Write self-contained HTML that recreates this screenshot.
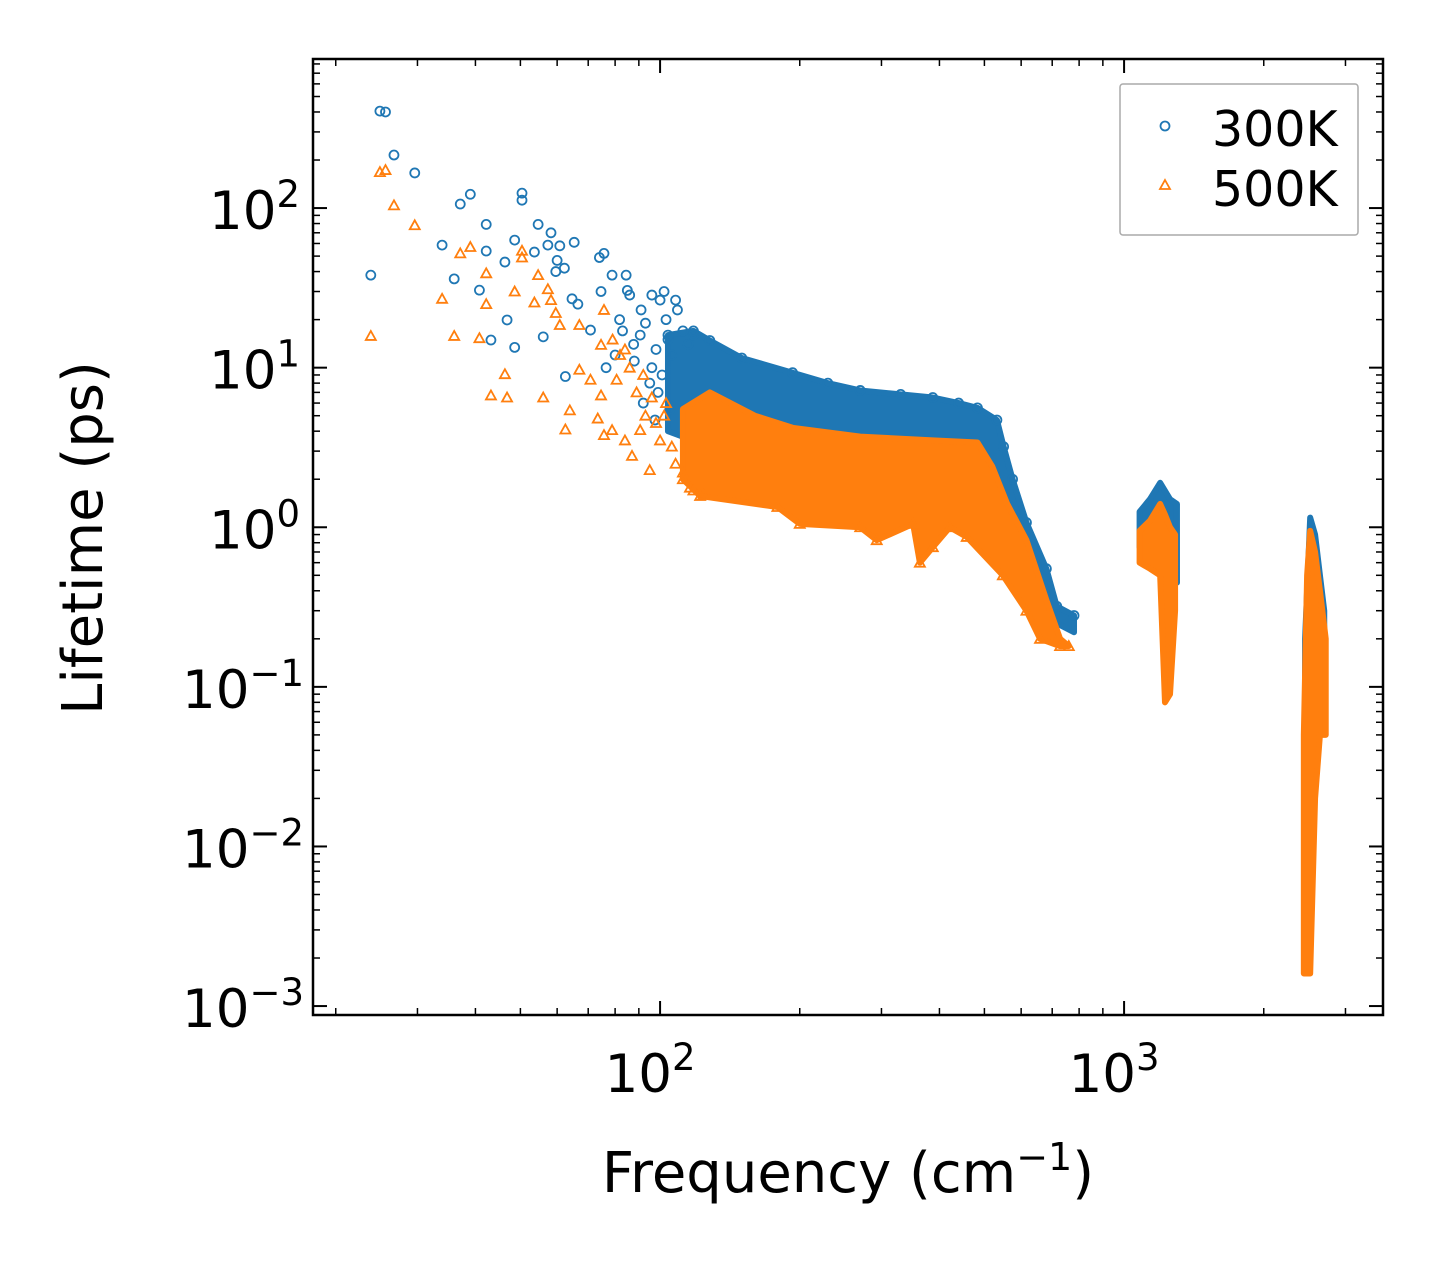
<!DOCTYPE html>
<html><head><meta charset="utf-8"><style>
html,body{margin:0;padding:0;background:#fff;}
svg{display:block;font-family:"DejaVu Sans","Liberation Sans",sans-serif;}
</style></head><body>
<svg id="chart" width="1442" height="1265" viewBox="0 0 1442 1265" xmlns="http://www.w3.org/2000/svg">
<rect width="1442" height="1265" fill="#fff"/>
<g id="marks"></g>
<g id="axes"></g>
<text x="848" y="1192" font-size="56" text-anchor="middle">Frequency (cm<tspan dy="-22" font-size="38">−1</tspan><tspan dy="22">)</tspan></text>
<text transform="translate(102,538) rotate(-90)" font-size="56" text-anchor="middle">Lifetime (ps)</text>
<g>
<rect x="1120" y="84" width="238" height="151" rx="3" fill="#fff" stroke="#aaa" stroke-width="1.5"/>
<circle cx="1165" cy="126" r="4.5" fill="none" stroke="#1f77b4" stroke-width="1.8"/>
<text x="1212" y="146" font-size="49">300K</text>
<path d="M1165 180 L1170 189 L1160 189 Z" fill="none" stroke="#ff7f0e" stroke-width="1.8"/>
<text x="1212" y="206" font-size="49">500K</text>
</g>
</svg>
<script>
// ---- data ----
const blueF = [23.8,24.9,25.6,26.7,29.6,33.9,36,37.1,39,40.8,42.2,42.2,43.2,46.3,46.8,48.6,48.6,50.4,50.4,54.6,53.6,56,57.3,58.2,59.6,60,60.8,62.2,62.5,64.6,65.3,66.5,70.8,74,75.7,74.6,76.5,78.8,84.5,81.8,86,85,91,96,100,102,108,109,97.5,90.6,87.7,80,83,88,93,95,98,103,104,106,112,115,118,92,96,99,101,105];
const blueL = [38,405,400,215,166,58.6,36,106,122,30.6,79,53.8,14.9,45.9,19.9,13.4,63,124,112,79,53,15.6,58.6,70,40,47,58,42,8.8,27,61,25,17.2,49,52,30,10,38,38,20,28.5,30.5,23,28.5,26.5,30,26.5,23,4.7,16,14,12,17,11,19,8,13,20,15,12,17,14,16,6,10,7,9,5.5];
const orangeF = [23.8,24.9,25.6,26.7,29.6,33.9,36,37.1,39,40.8,42.2,42.2,43.2,46.3,46.8,48.6,50.4,50.4,53.6,54.6,56,57.3,58.2,59.6,60.8,62.5,63.9,67,70.8,73.4,74.6,75.7,78.8,80.6,84,87,90.6,95,100,108,116,67,75.7,74.6,82,86,89,93,98,103,106,112,118,124,79,84,92,96,102];
const orangeL = [15.8,168,173,104,78,27,15.8,52,57,15.3,39,25,6.7,9.1,6.5,30,54,49,25.6,38,6.5,31,26.5,22,18.5,4.1,5.4,9.7,8.4,4.8,6.7,3.78,4.06,8.4,3.5,2.8,4.06,2.28,3.5,2.5,1.77,18.5,23,13.9,12,10,7,5,4.5,6,3.2,2.2,1.7,1.6,15,13,9,6.5,5];
// dense-band envelopes (upper & lower edges)
const blueBandUpF = [104,118,128,150,193,230,270,330,387,440,483,532,550,575,616,680,716,780];
const blueBandUpL = [16,17,14.8,11.5,9.3,8,7.2,6.8,6.5,6.0,5.6,4.7,3.2,2.0,1.07,0.55,0.32,0.28];
const blueBandLoF = [104,128,193,270,387,483,532,560,616,716,780];
const blueBandLoL = [4,3.2,2.6,2.4,2.2,2.1,1.8,1.3,0.6,0.25,0.22];
const orangeBandUpF = [112,128,160,193,270,387,483,520,560,616,680,728,760];
const orangeBandUpL = [5.5,7.0,5.0,4.2,3.7,3.5,3.4,2.4,1.4,0.83,0.35,0.2,0.18];
const orangeBandLoF = [112,122,179,200,270,293,351,363,387,421,458,548,616,659,728,760];
const orangeBandLoL = [2.0,1.57,1.34,1.05,1.0,0.83,1.05,0.6,0.75,1.0,0.87,0.5,0.3,0.2,0.18,0.18];
const blueC2F = [1080,1137,1196,1256,1300];
const blueC2Up = [1.25,1.5,1.9,1.5,1.4];
const blueC2Lo = [0.75,0.8,0.75,0.6,0.45];
const orangeC2F = [1080,1137,1196,1225,1256,1288];
const orangeC2Up = [0.95,1.1,1.4,1.2,1.0,0.9];
const orangeC2Lo = [0.6,0.55,0.5,0.08,0.09,0.3];
const blueC3F = [2455,2518,2580,2643,2700];
const blueC3Up = [0.2,1.15,0.9,0.5,0.3];
const blueC3Lo = [0.01,0.01,0.05,0.1,0.1];
const orangeC3F = [2440,2480,2518,2580,2643,2720];
const orangeC3Up = [0.05,0.5,0.95,0.7,0.4,0.2];
const orangeC3Lo = [0.0016,0.0016,0.0016,0.02,0.05,0.05];
const xTickExp = [2,3];
const yTickExp = [-3,-2,-1,0,1,2];

// ---- axes ----
const L=313,R=1383,T=59,B=1015;
const xmin=1.252,xmax=3.558,ymin=-3.056,ymax=2.934;
const X=f=>L+(Math.log10(f)-xmin)/(xmax-xmin)*(R-L);
const Y=v=>B-(Math.log10(v)-ymin)/(ymax-ymin)*(B-T);
const NS="http://www.w3.org/2000/svg";
const marks=document.getElementById('marks'), axes=document.getElementById('axes');
function mk(tag,attrs,parent){const e=document.createElementNS(NS,tag);for(const k in attrs)e.setAttribute(k,attrs[k]);parent.appendChild(e);return e;}
const BLUE="#1f77b4",ORANGE="#ff7f0e";

function band(upF,upL,loF,loL,color,name){
  let pts=upF.map((f,i)=>X(f)+','+Y(upL[i]));
  for(let i=loF.length-1;i>=0;i--)pts.push(X(loF[i])+','+Y(loL[i]));
  const p=mk('polygon',{points:pts.join(' '),fill:color,stroke:color,'stroke-width':6,'stroke-linejoin':'round'},marks);
  
  
}
function circ(f,l){const c=mk('circle',{cx:X(f),cy:Y(l),r:4.5,fill:'none',stroke:BLUE,'stroke-width':1.8},marks);
  
  }
function tri(f,l){const x=X(f),y=Y(l);const t=mk('path',{d:`M${x} ${y-5} L${x+5} ${y+4} L${x-5} ${y+4} Z`,fill:'none',stroke:ORANGE,'stroke-width':1.8},marks);
  
  }

band(blueBandUpF,blueBandUpL,blueBandLoF,blueBandLoL,BLUE,'band-300k-main');
band(blueC2F,blueC2Up,blueC2F,blueC2Lo,BLUE,'band-300k-1200');
band(blueC3F,blueC3Up,blueC3F,blueC3Lo,BLUE,'band-300k-2500');
blueF.forEach((f,i)=>circ(f,blueL[i]));
blueBandUpF.forEach((f,i)=>circ(f,blueBandUpL[i]));
band(orangeBandUpF,orangeBandUpL,orangeBandLoF,orangeBandLoL,ORANGE,'band-500k-main');
band(orangeC2F,orangeC2Up,orangeC2F,orangeC2Lo,ORANGE,'band-500k-1200');
band(orangeC3F,orangeC3Up,orangeC3F,orangeC3Lo,ORANGE,'band-500k-2500');
orangeF.forEach((f,i)=>tri(f,orangeL[i]));
orangeBandLoF.forEach((f,i)=>tri(f,orangeBandLoL[i]));

// frame
const fr=mk('rect',{x:L,y:T,width:R-L,height:B-T,fill:'none',stroke:'#000','stroke-width':2.5},axes);


for(let e=1;e<=3;e++)for(let m=1;m<10;m++){
  const v=m*Math.pow(10,e);const lv=Math.log10(v);if(lv<xmin||lv>xmax)continue;
  const x=X(v),len=m===1?14:7;
  mk('line',{x1:x,x2:x,y1:B,y2:B-len,stroke:'#000','stroke-width':m===1?2:1.5},axes);
  mk('line',{x1:x,x2:x,y1:T,y2:T+len,stroke:'#000','stroke-width':m===1?2:1.5},axes);
}
for(let e=-3;e<=2;e++)for(let m=1;m<10;m++){
  const v=m*Math.pow(10,e);const lv=Math.log10(v);if(lv<ymin||lv>ymax)continue;
  const y=Y(v),len=m===1?14:7;
  mk('line',{x1:L,x2:L+len,y1:y,y2:y,stroke:'#000','stroke-width':m===1?2:1.5},axes);
  mk('line',{x1:R,x2:R-len,y1:y,y2:y,stroke:'#000','stroke-width':m===1?2:1.5},axes);
}
xTickExp.forEach(e=>{
  const t=mk('text',{x:X(Math.pow(10,e))-10,y:1092,'font-size':53,'text-anchor':'middle'},axes);
  
  
  t.innerHTML=`10<tspan dy="-22" font-size="37">${e}</tspan>`;
});
yTickExp.forEach(e=>{
  const t=mk('text',{x:e<0?304:300,y:Y(Math.pow(10,e))+21,'font-size':53,'text-anchor':'end'},axes);
  
  
  t.innerHTML=`10<tspan dy="-22" font-size="37">${e<0?'−'+(-e):e}</tspan>`;
});
</script>
</body></html>
